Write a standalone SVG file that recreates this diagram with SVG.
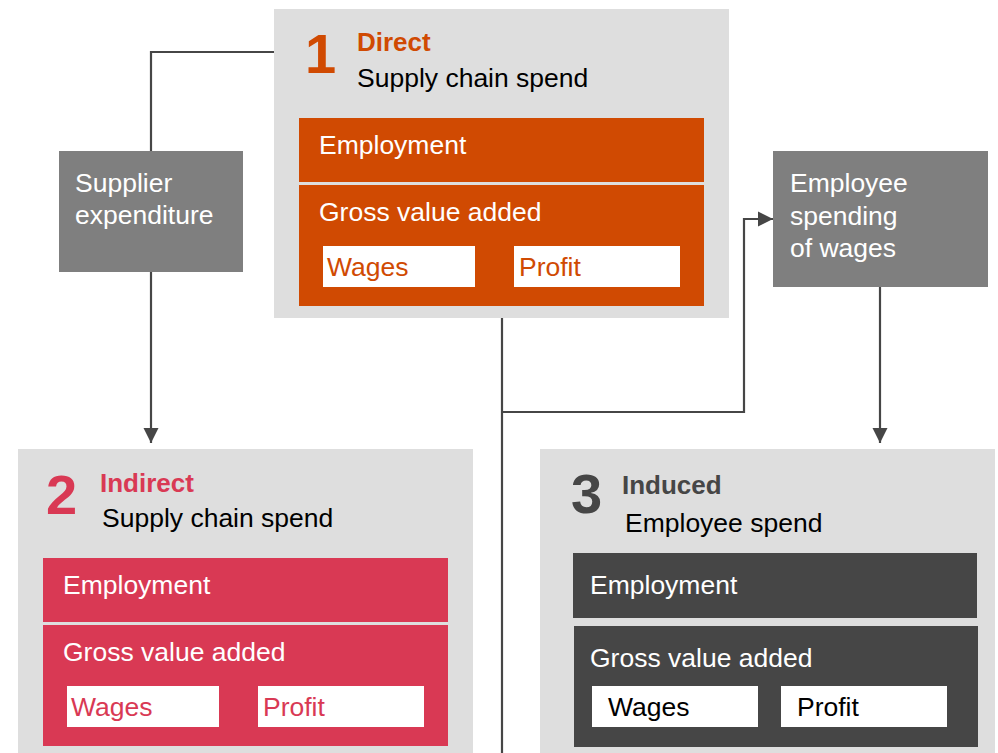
<svg xmlns="http://www.w3.org/2000/svg" width="998" height="753" viewBox="0 0 998 753">
<defs>
<style>
text{font-family:"Liberation Sans",Arial,sans-serif;font-size:26.5px}
.panel{fill:#DEDEDE}
.num{font-size:56px;font-weight:bold}
.title{font-weight:bold;font-size:26px}
.sub{fill:#000}
.w{fill:#fff}
.wb{fill:#fff}
.grey{fill:#7F7F7F}
.conn{fill:none;stroke:#464646;stroke-width:2.2}
</style>
<marker id="arr" viewBox="0 0 10 10" refX="10" refY="5" markerWidth="7" markerHeight="7" markerUnits="strokeWidth" orient="auto">
<path d="M0,0 L10,5 L0,10 Z" fill="#464646"/>
</marker>
</defs>
<rect width="998" height="753" fill="#fff"/>
<g id="connectors">
<path class="conn" d="M274,52 H151 V151"/>
<path class="conn" d="M151,272 V443" marker-end="url(#arr)"/>
<path class="conn" d="M502,318 V753"/>
<path class="conn" d="M502,412 H744 V219 H773" marker-end="url(#arr)"/>
<path class="conn" d="M880,287 V443" marker-end="url(#arr)"/>
</g>
<g id="direct">
<rect class="panel" x="274" y="9" width="455" height="309"/>
<text class="num" x="305" y="73" fill="#D04A02">1</text>
<text class="title" x="357" y="51" fill="#D04A02">Direct</text>
<text class="sub" x="357" y="87">Supply chain spend</text>
<rect x="299" y="118" width="405" height="64" fill="#D04A02"/>
<text class="w" x="319" y="154">Employment</text>
<rect x="299" y="185" width="405" height="121" fill="#D04A02"/>
<text class="w" x="319" y="221">Gross value added</text>
<rect class="wb" x="323" y="246" width="152" height="41"/>
<text x="327" y="276" fill="#D04A02">Wages</text>
<rect class="wb" x="514" y="246" width="166" height="41"/>
<text x="519" y="276" fill="#D04A02">Profit</text>
</g>
<g id="supplier-expenditure">
<rect class="grey" x="59" y="151" width="184" height="121"/>
<text class="w" x="75" y="192">Supplier</text>
<text class="w" x="75" y="224">expenditure</text>
</g>
<g id="employee-spending">
<rect class="grey" x="773" y="151" width="215" height="136"/>
<text class="w" x="790" y="192">Employee</text>
<text class="w" x="790" y="225">spending</text>
<text class="w" x="790" y="257">of wages</text>
</g>
<g id="indirect">
<rect class="panel" x="18" y="449" width="455" height="304"/>
<text class="num" x="46" y="514" fill="#D93954">2</text>
<text class="title" x="100" y="492" fill="#D93954">Indirect</text>
<text class="sub" x="102" y="527">Supply chain spend</text>
<rect x="43" y="558" width="405" height="64" fill="#D93954"/>
<text class="w" x="63" y="594">Employment</text>
<rect x="43" y="625" width="405" height="121" fill="#D93954"/>
<text class="w" x="63" y="661">Gross value added</text>
<rect class="wb" x="67" y="686" width="152" height="41"/>
<text x="71" y="716" fill="#D93954">Wages</text>
<rect class="wb" x="258" y="686" width="166" height="41"/>
<text x="263" y="716" fill="#D93954">Profit</text>
</g>
<g id="induced">
<rect class="panel" x="540" y="449" width="455" height="304"/>
<text class="num" x="571" y="513" fill="#464646">3</text>
<text class="title" x="622" y="494" fill="#464646">Induced</text>
<text class="sub" x="625" y="532">Employee spend</text>
<rect x="573" y="553" width="404" height="65" fill="#464646"/>
<text class="w" x="590" y="594">Employment</text>
<rect x="574" y="626" width="404" height="121" fill="#464646"/>
<text class="w" x="590" y="667">Gross value added</text>
<rect class="wb" x="592" y="686" width="166" height="41"/>
<text x="608" y="716" fill="#000">Wages</text>
<rect class="wb" x="781" y="686" width="166" height="41"/>
<text x="797" y="716" fill="#000">Profit</text>
</g>
</svg>
